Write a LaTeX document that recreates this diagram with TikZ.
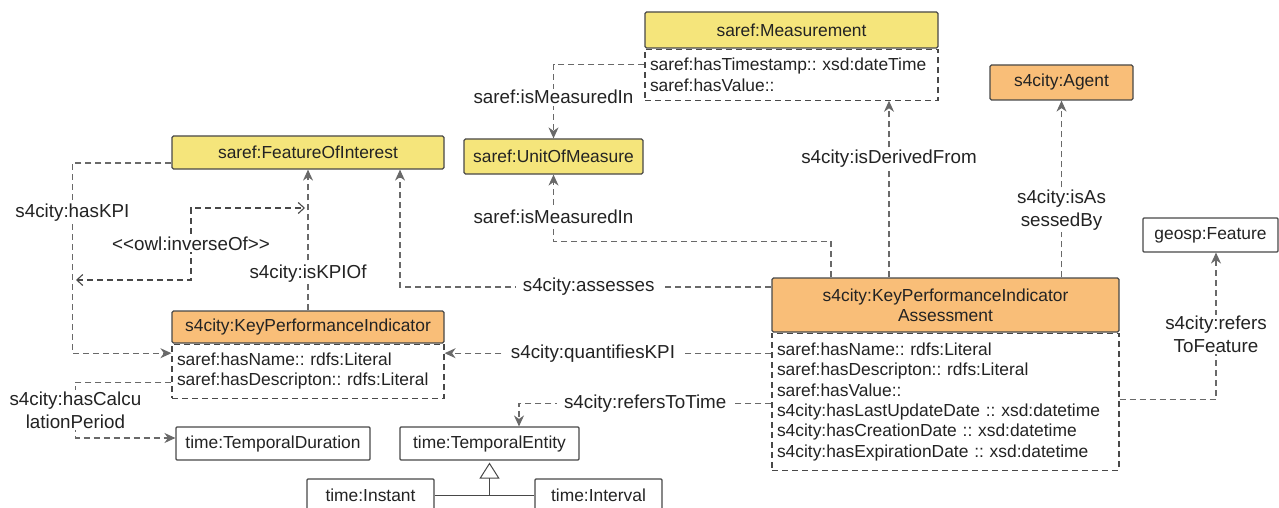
\documentclass[tikz,border=0pt]{standalone}
\usepackage{fontspec}
\setmainfont{Liberation Sans}
\usetikzlibrary{arrows.meta,calc}
\frenchspacing

\definecolor{sarefYellow}{RGB}{245,229,123}
\definecolor{cityOrange}{RGB}{249,190,120}
\definecolor{boxEdge}{RGB}{72,72,72}
\definecolor{relGray}{RGB}{105,105,105}
\definecolor{txtDark}{RGB}{35,35,35}

\begin{document}
\begin{tikzpicture}[x=1pt, y=-1pt,
    every node/.style={font=\fontsize{17.4}{20.4}\selectfont, text=txtDark},
    hdr/.style={draw=boxEdge, line width=1.2pt, rounded corners=1.5pt, inner sep=0pt, align=center},
    yellowhdr/.style={hdr, fill=sarefYellow},
    orangehdr/.style={hdr, fill=cityOrange},
    attrbox/.style={draw=boxEdge, line width=1.2pt, dash pattern=on 6pt off 4pt, fill=white,
                    anchor=north, align=left, inner xsep=5pt, inner ysep=0pt},
    plainbox/.style={draw=boxEdge, line width=1.1pt, rounded corners=1pt, fill=white, inner sep=0pt},
    rel/.style={draw=relGray, line width=1.1pt, dash pattern=on 6pt off 4pt,
                -{Stealth[length=11pt, width=10pt, inset=3.5pt]}},
    invrel/.style={draw=boxEdge, line width=1.1pt, dash pattern=on 6pt off 4pt,
                {Straight Barb[length=6pt, width=11pt]}-{Straight Barb[length=6pt, width=11pt]}},
    lbl/.style={fill=white, inner xsep=7pt, inner ysep=1.5pt, align=center, font=\fontsize{18.8}{22.8}\selectfont}]

\useasboundingbox (0,0) rectangle (1279,508);

% ===== Layout parameters =====
\def\boxH{33}       % height of the plain time boxes
\def\timeY{443.5}   % y of the time row
\def\subY{495}      % y of the instant / interval row

% ===== saref classes =====
\node[yellowhdr, minimum width=293pt, minimum height=36pt] (meas) at (791.5,30) {saref:Measurement};
\node[attrbox, text width=283pt, minimum height=51pt] (measAttr) at (meas.south)
    {saref:hasTimestamp:: xsd:dateTime\\saref:hasValue::};
\node[yellowhdr, minimum width=179pt, minimum height=35pt] (uom) at (553.5,156.5) {saref:UnitOfMeasure};
\node[yellowhdr, minimum width=272pt, minimum height=33pt] (foi) at (308,152.5) {saref:FeatureOfInterest};

% ===== s4city classes =====
\node[orangehdr, minimum width=272pt, minimum height=32pt] (kpi) at (308,327) {s4city:KeyPerformanceIndicator};
\node[attrbox, text width=262pt, minimum height=54pt] (kpiAttr) at (kpi.south)
    {saref:hasName:: rdfs:Literal\\saref:hasDescripton:: rdfs:Literal};

\node[orangehdr, minimum width=347pt, minimum height=54pt] (kpia) at (945.5,305)
    {s4city:KeyPerformanceIndicator\\Assessment};
\node[attrbox, text width=337pt, minimum height=137pt] (kpiaAttr) at (kpia.south)
    {saref:hasName:: rdfs:Literal\\
     saref:hasDescripton:: rdfs:Literal\\
     saref:hasValue::\\
     s4city:hasLastUpdateDate :: xsd:datetime\\
     s4city:hasCreationDate :: xsd:datetime\\
     s4city:hasExpirationDate :: xsd:datetime};

\node[orangehdr, minimum width=143pt, minimum height=35pt] (agent) at (1061.5,82.5) {s4city:Agent};

% ===== External classes =====
\node[plainbox, minimum width=135pt, minimum height=34pt] (geo) at (1210.5,235) {geosp:Feature};
\node[plainbox, minimum width=194pt, minimum height=\boxH] (tdur) at (273,\timeY) {time:TemporalDuration};
\node[plainbox, minimum width=179pt, minimum height=\boxH] (tent) at (489.5,\timeY) {time:TemporalEntity};
\node[plainbox, minimum width=127pt, minimum height=32pt] (inst) at (370.5,\subY) {time:Instant};
\node[plainbox, minimum width=127pt, minimum height=32pt] (intv) at (598.5,\subY) {time:Interval};

% subclass triangle
\draw[boxEdge, line width=1pt] (inst.east) -- (intv.west);
\draw[boxEdge, line width=1pt, shorten >=2pt, -{Triangle[open, length=16pt, width=20pt]}]
    (inst.east -| tent.south) -- (tent.south);

% ===== Relations =====
\draw[rel] ([yshift=10pt]measAttr.west) -| (uom.north) node[lbl, pos=0.72] {saref:isMeasuredIn};
\draw[rel] ([xshift=-114.5pt]kpia.north) -- ++(0,-36) -| (uom.south) node[lbl, pos=0.685] {saref:isMeasuredIn};

\coordinate (derivFoot) at ([xshift=-56.5pt]kpia.north);
\draw[rel] (derivFoot) -- (derivFoot |- measAttr.south) node[lbl, pos=0.67] {s4city:isDerivedFrom};
\draw[rel] (kpia.north -| agent.south) -- (agent.south) node[lbl, pos=0.38] {s4city:isAs\\sessedBy};
\draw[rel] ([yshift=2.5pt]kpiaAttr.east) -| ([xshift=5.5pt]geo.south) node[lbl, pos=0.72] {s4city:refers\\ToFeature};

\draw[rel] ([yshift=18pt]kpia.west) -| ([xshift=92pt]foi.south) node[lbl, pos=0.246] {s4city:assesses};
\draw[rel] ([yshift=48.5pt]kpiaAttr.west) -- ([yshift=18pt]kpiAttr.east) node[lbl, pos=0.546] {s4city:quantifiesKPI};
\draw[rel] ([yshift=-1.5pt]kpiaAttr.west) -| ([xshift=29.5pt]tent.north) node[lbl, pos=0.25] {s4city:refersToTime};

\draw[rel] (kpi.north) -- (foi.south) node[lbl, pos=0.26] {s4city:isKPIOf};
\draw[rel] ([yshift=-10.5pt]foi.west) -- ++(-99,0) |- ([yshift=18pt]kpiAttr.west) node[lbl, pos=0.13] {s4city:hasKPI};
\draw[rel] ([yshift=-11pt]kpiAttr.west) -- ++(-96,0) |- ([yshift=5.5pt]tdur.west) node[lbl, pos=0.25] {s4city:hasCalcu\\lationPeriod};

% inverse relation marker
\coordinate (invL) at (76,280);
\coordinate (invR) at (305,208);
\draw[invrel] (invL) -- ++(115,0) |- (invR) node[lbl, pos=0.25] {<{}<owl:inverseOf>{}>};

\end{tikzpicture}
\end{document}
